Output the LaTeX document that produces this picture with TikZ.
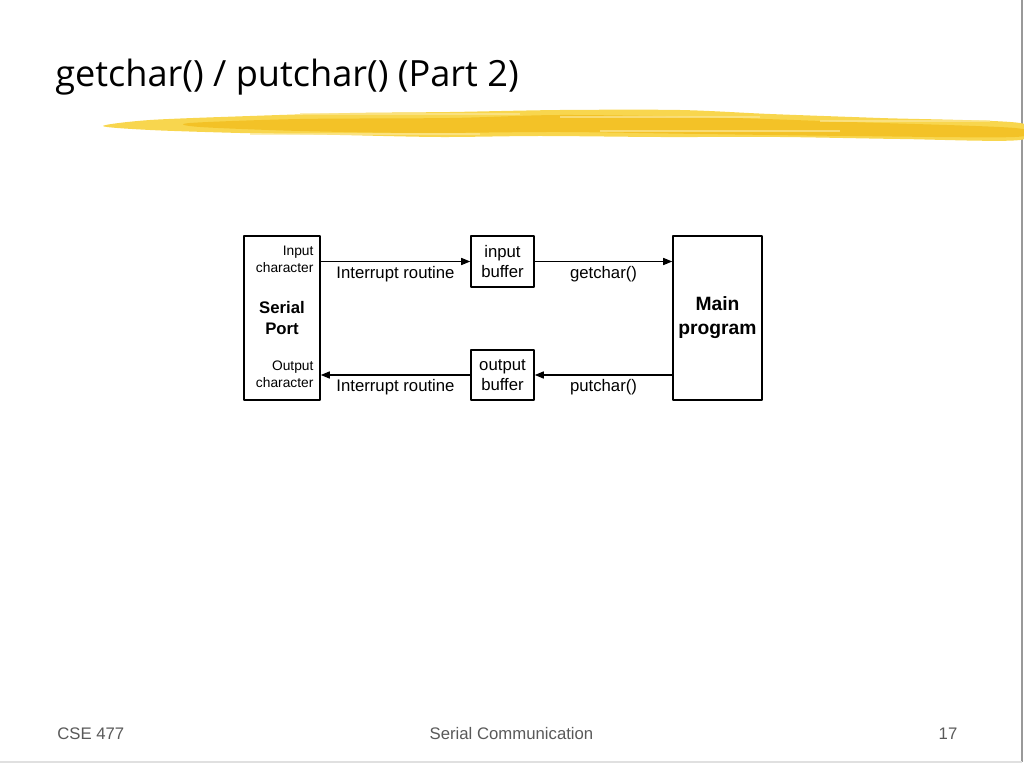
\documentclass[tikz,border=0pt]{standalone}
\usepackage{fontspec}
\setmainfont{Liberation Sans}
\newfontfamily\titlefont{Open Sans}
\usetikzlibrary{arrows.meta,calc}
\definecolor{brushlight}{RGB}{248,214,78}
\definecolor{brushdark}{RGB}{242,190,30}
\begin{document}
\begin{tikzpicture}[x=0.025cm, y=-0.025cm, line join=round, >={Triangle[length=6.5pt,width=5pt]}]
	\tikzset{
		box/.style={draw, line width=1pt, inner sep=0pt, align=center, font=\fontsize{11.9}{14.2}\selectfont},
		flow/.style={->, line width=1.1pt},
		lbl/.style={anchor=base, inner sep=0pt, yshift=-12pt, font=\fontsize{11.9}{14}\selectfont},
		small/.style={anchor=base east, inner sep=0pt, font=\fontsize{9.8}{12}\selectfont},
		foot/.style={anchor=base, inner sep=0pt, text=black!65, font=\fontsize{11.9}{14}\selectfont}
	}
	\useasboundingbox (0,0) rectangle (1024,767);
	% slide frame
	\draw[black!40, line width=1.2pt] (1022,0)--(1022,762);
	\draw[black!12, line width=0.8pt] (0,762)--(1022,762);
	% brush stroke under the title
	\fill[brushlight] plot[smooth cycle, tension=0.5] coordinates {(103,126) (150,120) (250,116) (350,113) (450,112) (560,110) (680,110) (770,114) (880,118) (1020,123) (1020,140) (900,139) (780,137) (660,137) (540,136) (440,137) (340,135) (240,133) (150,130)};
	\fill[brushdark, opacity=0.8] plot[smooth cycle, tension=0.5] coordinates {(190,123) (300,119) (450,118) (560,115) (700,117) (850,122) (1015,128) (1015,137) (850,136) (700,134) (560,132) (420,133) (300,131) (200,127)};
	\foreach \y/\a/\b in {114/300/520, 117/560/760, 121/820/990, 134/250/480, 131/600/840}
		\draw[brushlight!60!white, line width=0.8pt, opacity=0.7] (\a,\y)--(\b,\y);
	\node[anchor=base west, inner sep=0pt, font=\titlefont\fontsize{25.7}{30}\selectfont] (title) at (55,87) {getchar() / putchar() (Part 2)};
	% boxes
	\node[box, minimum width=1.9cm, minimum height=4.1cm, font=\bfseries\fontsize{11.9}{14.9}\selectfont] (serial) at (282,318) {Serial\\Port};
	\node[box, minimum width=1.575cm, minimum height=1.275cm] (inbuf) at (502.5,261.5) {input\\buffer};
	\node[box, minimum width=1.575cm, minimum height=1.25cm] (outbuf) at (502.5,375) {output\\buffer};
	\node[box, minimum width=2.225cm, minimum height=4.1cm, font=\bfseries\fontsize{13.7}{17}\selectfont] (main) at (717.5,318) {Main\\program};
	% port labels
	\node[small] (inchar1) at ($(serial.north east)+(-7,20.7)$) {Input};
	\node[small] (inchar2) at ($(serial.north east)+(-7,37)$) {character};
	\node[small] (outchar1) at ($(serial.south east)+(-7,-30)$) {Output};
	\node[small] (outchar2) at ($(serial.south east)+(-7,-13.3)$) {character};
	% connectors
	\draw[flow] (serial.east |- inbuf.west)--node[lbl]{Interrupt routine} (inbuf.west);
	\draw[flow] (inbuf.east)--node[lbl]{getchar()} (inbuf.east -| main.west);
	\draw[flow] (main.west |- outbuf.east)--node[lbl]{putchar()} (outbuf.east);
	\draw[flow] (outbuf.west)--node[lbl]{Interrupt routine} (outbuf.west -| serial.east);
	% footer
	\node[foot, anchor=base west] (course) at (57,739) {CSE 477};
	\node[foot] (topic) at (511.5,739) {Serial Communication};
	\node[foot] (page) at (948,739) {17};
\end{tikzpicture}
\end{document}
